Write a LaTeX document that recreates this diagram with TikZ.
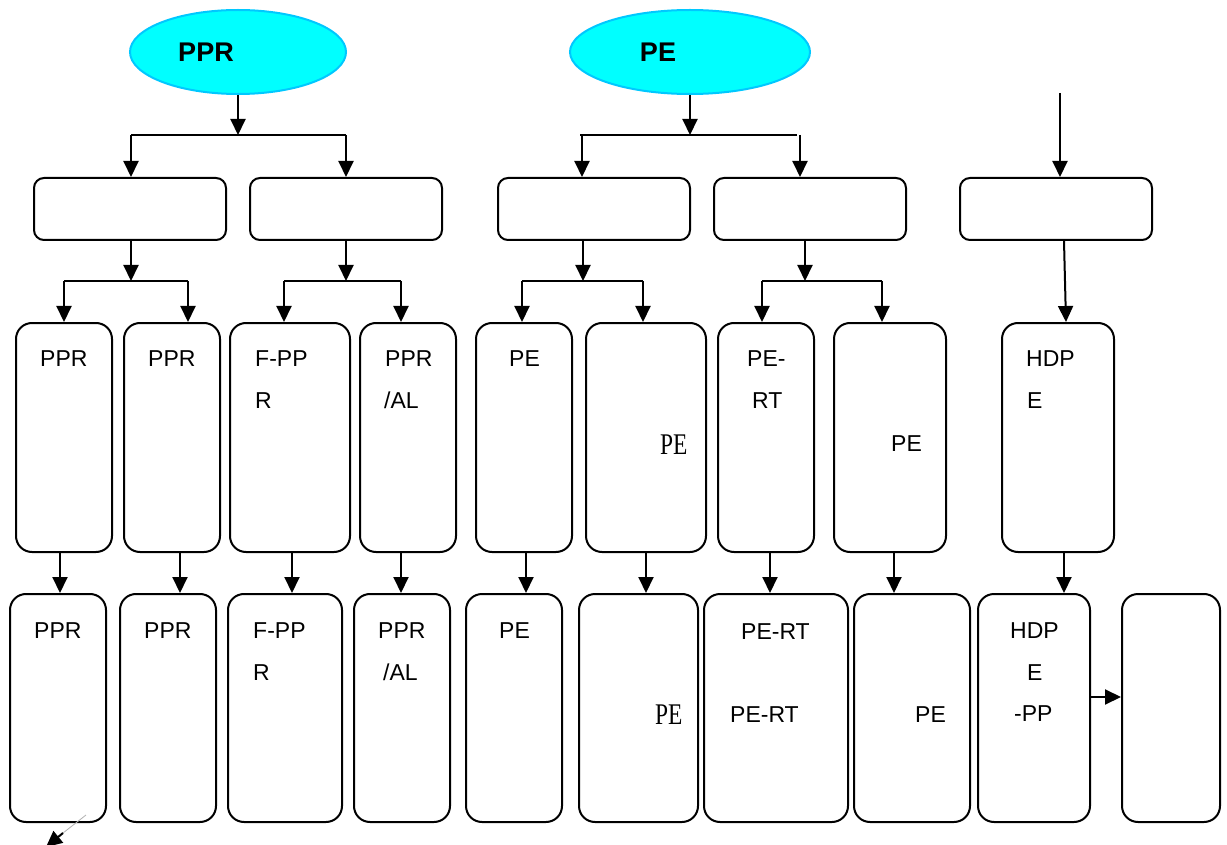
\documentclass[tikz,border=0pt]{standalone}
\usepackage{fontspec}
\usepackage{graphicx}
\setmainfont{Liberation Sans}
\newfontfamily\serifpe{Liberation Serif}
\usetikzlibrary{arrows.meta,shapes.geometric}
\tikzset{
  box/.style={draw, line width=2pt, rounded corners=12pt, fill=white},
  tallbox/.style={box, minimum height=229pt, rounded corners=16pt},
  lowbox/.style={box, minimum height=228pt, rounded corners=16pt},
  topbox/.style={box, minimum height=62pt, minimum width=192pt, rounded corners=10pt},
  arr/.style={line width=2pt, -{Triangle[length=16pt,width=15pt]}},
  bus/.style={line width=2pt},
  oval/.style={ellipse, draw={rgb,255:red,0;green,200;blue,255}, line width=2pt, fill={rgb,255:red,0;green,255;blue,255}, minimum width=216pt, minimum height=84pt, inner sep=0pt},
  ttl/.style={font=\fontsize{27}{30}\selectfont\bfseries, inner sep=0pt},
  txt/.style={font=\fontsize{23}{28}\selectfont, inner sep=0pt, anchor=base west},
  spe/.style={font=\fontsize{30}{34}\selectfont\serifpe, inner sep=0pt, anchor=base west}
}
\begin{document}
\begin{tikzpicture}[x=1pt,y=-1pt]
\clip (0,0) rectangle (1227,845);
\fill[white] (0,0) rectangle (1227,845);

% top ellipses
\node[oval] (e1) at (238,52) {};
\node[ttl] (t1) at (206,52) {PPR};
\node[oval, minimum width=240pt] (e2) at (690,52) {};
\node[ttl] (t2) at (658,52) {PE};

% row 1 boxes
\node[topbox] (rA) at (130,209) {};
\node[topbox] (rB) at (346,209) {};
\node[topbox] (rC) at (594,209) {};
\node[topbox] (rD) at (810,209) {};
\node[topbox] (rE) at (1056,209) {};

% row 2 boxes
\node[tallbox, minimum width=96pt] (p1) at (64,437.5) {};
\node[tallbox, minimum width=96pt] (p2) at (172,437.5) {};
\node[tallbox, minimum width=120pt] (p3) at (290,437.5) {};
\node[tallbox, minimum width=96pt] (p4) at (408,437.5) {};
\node[tallbox, minimum width=96pt] (p5) at (524,437.5) {};
\node[tallbox, minimum width=120pt] (p6) at (646,437.5) {};
\node[tallbox, minimum width=96pt] (p7) at (766,437.5) {};
\node[tallbox, minimum width=112pt] (p8) at (890,437.5) {};
\node[tallbox, minimum width=112pt] (p9) at (1058,437.5) {};

% row 3 boxes
\node[lowbox, minimum width=96pt] (q1) at (58,708) {};
\node[lowbox, minimum width=96pt] (q2) at (168,708) {};
\node[lowbox, minimum width=114pt] (q3) at (285,708) {};
\node[lowbox, minimum width=96pt] (q4) at (402,708) {};
\node[lowbox, minimum width=96pt] (q5) at (514,708) {};
\node[lowbox, minimum width=119pt] (q6) at (638.5,708) {};
\node[lowbox, minimum width=144pt] (q7) at (776,708) {};
\node[lowbox, minimum width=116pt] (q8) at (912,708) {};
\node[lowbox, minimum width=112pt] (q9) at (1034,708) {};
\node[lowbox, minimum width=98pt] (q10) at (1171,708) {};

% bus coordinates
\coordinate (b1) at (238,135);
\coordinate (b1l) at (131,135);
\coordinate (b1r) at (346,135);
\coordinate (b2) at (690,135);
\coordinate (b2l) at (580,135);
\coordinate (b2r) at (797,135);
\coordinate (top3) at (1060,93);

% ellipse to row 1
\draw[arr] (e1.south) -- (b1);
\draw[bus] (b1l) -- (b1r);
\draw[arr] (b1l) -- (rA.north -| 131,0);
\draw[arr] (b1r) -- (rB.north -| 346,0);
\draw[arr] (e2.south) -- (b2);
\draw[bus] (b2l) -- (b2r);
\draw[arr] (582,135) -- (rC.north -| 582,0);
\draw[arr] (800,135) -- (rD.north -| 800,0);
\draw[arr] (top3) -- (rE.north -| 1060,0);

% row 1 to row 2
\coordinate (cA) at (131,281);
\coordinate (cB) at (346,281);
\coordinate (cC) at (583,281);
\coordinate (cD) at (805,281);
\draw[arr] (rA.south -| 131,0) -- (cA);
\draw[bus] (64,281) -- (188,281);
\draw[arr] (64,281) -- (p1.north -| 64,0);
\draw[arr] (188,281) -- (p2.north -| 188,0);
\draw[arr] (rB.south) -- (cB);
\draw[bus] (284,281) -- (401,281);
\draw[arr] (284,281) -- (p3.north -| 284,0);
\draw[arr] (401,281) -- (p4.north -| 401,0);
\draw[arr] (rC.south -| 583,0) -- (cC);
\draw[bus] (522,281) -- (643,281);
\draw[arr] (522,281) -- (p5.north -| 522,0);
\draw[arr] (643,281) -- (p6.north -| 643,0);
\draw[arr] (rD.south -| 805,0) -- (cD);
\draw[bus] (762,281) -- (882,281);
\draw[arr] (762,281) -- (p7.north -| 762,0);
\draw[arr] (882,281) -- (p8.north -| 882,0);
\draw[arr] (rE.south -| 1064,0) -- (p9.north -| 1066,0);

% row 2 to row 3
\draw[arr] (p1.south -| 60,0) -- (q1.north -| 60,0);
\draw[arr] (p2.south -| 180,0) -- (q2.north -| 180,0);
\draw[arr] (p3.south -| 292,0) -- (q3.north -| 292,0);
\draw[arr] (p4.south -| 401,0) -- (q4.north -| 401,0);
\draw[arr] (p5.south -| 526,0) -- (q5.north -| 526,0);
\draw[arr] (p6.south -| 646,0) -- (q6.north -| 646,0);
\draw[arr] (p7.south -| 770,0) -- (q7.north -| 770,0);
\draw[arr] (p8.south -| 894,0) -- (q8.north -| 894,0);
\draw[arr] (p9.south -| 1064,0) -- (q9.north -| 1064,0);
\draw[arr] (q9.east |- 0,697) -- (q10.west |- 0,697);

% stray arrow at bottom left
\coordinate (s1) at (86,815);
\coordinate (s2) at (63,833);
\coordinate (s3) at (46,847);
\draw[gray!60, line width=0.8pt] (s1) -- (s2);
\draw[arr] (s2) -- (s3);

% row 2 texts
\node[txt] (a1) at (40,366) {PPR};
\node[txt] (a2) at (148,366) {PPR};
\node[txt] (a3) at (255,366) {F-PP};
\node[txt] (a3b) at (255,408) {R};
\node[txt] (a4) at (385,366) {PPR};
\node[txt] (a4b) at (384,408) {/AL};
\node[txt] (a5) at (509,366) {PE};
\node[spe] (a6) at (660,454) {\scalebox{0.78}[1]{PE}};
\node[txt] (a7) at (747,366) {PE-};
\node[txt] (a7b) at (752,408) {RT};
\node[txt] (a8) at (891,451) {PE};
\node[txt] (a9) at (1026,366) {HDP};
\node[txt] (a9b) at (1027,408) {E};

% row 3 texts
\node[txt] (c1) at (34,638) {PPR};
\node[txt] (c2) at (144,638) {PPR};
\node[txt] (c3) at (253,638) {F-PP};
\node[txt] (c3b) at (253,680) {R};
\node[txt] (c4) at (378,638) {PPR};
\node[txt] (c4b) at (383,680) {/AL};
\node[txt] (c5) at (499,638) {PE};
\node[spe] (c6) at (655,724) {\scalebox{0.78}[1]{PE}};
\node[txt] (c7) at (741,639) {PE-RT};
\node[txt] (c7b) at (730,722) {PE-RT};
\node[txt] (c8) at (915,722) {PE};
\node[txt] (c9) at (1010,638) {HDP};
\node[txt] (c9b) at (1027,680) {E};
\node[txt] (c9c) at (1014,721) {-PP};
\end{tikzpicture}
\end{document}
